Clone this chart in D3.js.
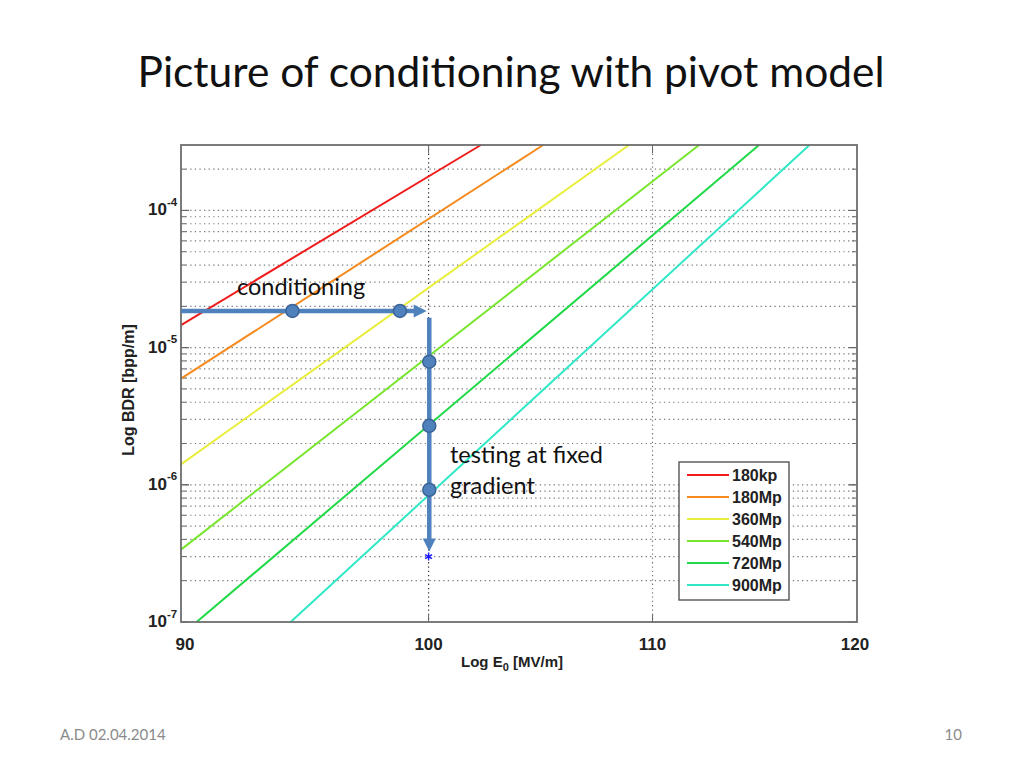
<!DOCTYPE html>
<html><head><meta charset="utf-8">
<script src="https://cdn.jsdelivr.net/npm/d3@7"></script>
<style>
body{margin:0;background:#fff;}
svg{display:block;}
</style></head>
<body>
<svg id="chart" width="1024" height="768"></svg>
<script>
// ---- data ----
const seriesNames = ["180kp","180Mp","360Mp","540Mp","720Mp","900Mp"];
const seriesColors = ["#f01c1c","#f58a1e","#e8ee3a","#78e62e","#1fd946","#30e8c6"];
// each line: visible start / end points [E0, BDR] (straight in log-log)
const lineStartE = [90, 90, 90, 90, 90.6, 94.3];
const lineStartB = [1.46e-5, 5.94e-6, 1.41e-6, 3.37e-7, 1e-7, 1e-7];
const lineEndE   = [102.25, 105.0, 108.9, 112.2, 115.1, 117.6];
const lineEndB   = [3e-4, 3e-4, 3e-4, 3e-4, 3e-4, 3e-4];
const xTicks = [90, 100, 110, 120];
const yTicks = [1e-7, 1e-6, 1e-5, 1e-4];
const yTickExp = ["-7","-6","-5","-4"];
const xGrid = [100, 110];
// annotation: conditioning (horizontal) and testing (vertical)
const condArrowE = [90, 99.92];
const condArrowB = 1.85e-5;
const condDotsE = [94.37, 98.79];
const testArrowB = [1.65e-5, 3.27e-7];
const testE = 100.03;
const testDotsB = [7.9e-6, 2.69e-6, 9.2e-7];
const starPoint = [100, 3e-7];

// ---- layout ----
const L = 181, R = 857, T = 145, B = 622;
const svg = d3.select("#chart");
const x = d3.scaleLog().domain([90, 120]).range([L, R]);
const y = d3.scaleLog().domain([1e-7, 3e-4]).range([B, T]);
const axisFont = "Arial, 'Liberation Sans', sans-serif";
const af = "Lato, 'Open Sans', sans-serif";

// title
svg.append("text").attr("x", 511).attr("y", 87).attr("text-anchor","middle")
  .attr("font-family",af).attr("font-size", 42.5)
  .attr("fill","#111").text("Picture of conditioning with pivot model");

// plot background
svg.append("rect").attr("x",L).attr("y",T).attr("width",R-L).attr("height",B-T).attr("fill","#fff");

// horizontal minor grid
const gridVals = [];
for (let e = -7; e <= -4; e++) for (let m = 1; m <= 9; m++) {
  const v = m * Math.pow(10, e);
  if (v > 1e-7 && v < 3e-4) gridVals.push(v);
}
svg.append("g").selectAll("line").data(gridVals).join("line")
  .attr("x1", L).attr("x2", R).attr("y1", d => y(d)).attr("y2", d => y(d))
  .attr("stroke","#7a7a7a").attr("stroke-width",1.2).attr("stroke-dasharray","1.3,3.3");

// vertical grid
svg.append("g").selectAll("line").data(xGrid).join("line")
  .attr("x1", d => x(d)).attr("x2", d => x(d)).attr("y1", T).attr("y2", B)
  .attr("stroke", d => d === 100 ? "#333" : "#7a7a7a").attr("stroke-width",1.2)
  .attr("stroke-dasharray","1.3,3");

// y ticks (inside, left and right)
const tickG = svg.append("g").attr("stroke","#666").attr("stroke-width",1);
gridVals.concat(yTicks).forEach(v => {
  const major = yTicks.includes(v);
  const len = major ? 8 : 5;
  tickG.append("line").attr("x1",L).attr("x2",L+len).attr("y1",y(v)).attr("y2",y(v));
  tickG.append("line").attr("x1",R).attr("x2",R-len).attr("y1",y(v)).attr("y2",y(v));
});
xGrid.forEach(v => {
  tickG.append("line").attr("x1",x(v)).attr("x2",x(v)).attr("y1",B).attr("y2",B-8);
  tickG.append("line").attr("x1",x(v)).attr("x2",x(v)).attr("y1",T).attr("y2",T+8);
});

// series lines
const lineGen = d3.line().x(d => x(d[0])).y(d => y(d[1]));
svg.append("g").selectAll("path").data(seriesNames).join("path")
  .attr("d", (d,i) => lineGen([[lineStartE[i], lineStartB[i]], [lineEndE[i], lineEndB[i]]]))
  .attr("fill","none").attr("stroke", (d,i) => seriesColors[i]).attr("stroke-width",2);

// frame
svg.append("rect").attr("x",L).attr("y",T).attr("width",R-L).attr("height",B-T)
  .attr("fill","none").attr("stroke","#6e6e6e").attr("stroke-width",1.8);

// y tick labels
const yl = svg.append("g").attr("font-family",axisFont)
  .attr("font-weight","bold").attr("fill","#222");
yTicks.forEach((v,i) => {
  yl.append("text").attr("x", 167).attr("y", y(v) + 5).attr("text-anchor","end")
    .attr("font-size",17).text("10");
  yl.append("text").attr("x", 167).attr("y", y(v) - 4.5).attr("font-size",11.5).text(yTickExp[i]);
});
// x tick labels
svg.append("g").selectAll("text").data(xTicks).join("text")
  .attr("x", d => x(d) + (d===90 ? 4 : (d===120 ? -2 : 0))).attr("y", 650).attr("text-anchor","middle")
  .attr("font-family",axisFont).attr("font-weight","bold")
  .attr("font-size",17).attr("fill","#222").text(d => d);

// axis titles
const xt = svg.append("text").attr("x", 512).attr("y", 667).attr("text-anchor","middle")
  .attr("font-family",axisFont).attr("font-weight","bold")
  .attr("font-size",15).attr("fill","#222");
xt.append("tspan").text("Log E");
xt.append("tspan").attr("font-size",11).attr("dy",4).text("0");
xt.append("tspan").attr("dy",-4).text(" [MV/m]");

svg.append("text").attr("transform","translate(134,390) rotate(-90)").attr("text-anchor","middle")
  .attr("font-family",axisFont).attr("font-weight","bold")
  .attr("font-size",16).attr("fill","#222").text("Log BDR [bpp/m]");

// legend
const lg = svg.append("g");
lg.append("rect").attr("x",679).attr("y",462).attr("width",110).attr("height",138)
  .attr("fill","#fff").attr("stroke","#555").attr("stroke-width",1.4);
seriesNames.forEach((n,i) => {
  const yy = 475 + i * 22;
  lg.append("line").attr("x1",687).attr("x2",729).attr("y1",yy).attr("y2",yy)
    .attr("stroke",seriesColors[i]).attr("stroke-width",2);
  lg.append("text").attr("x",732).attr("y",yy+6)
    .attr("font-family",axisFont).attr("font-weight","bold")
    .attr("font-size",16).attr("fill","#222").text(n);
});

// star data point
svg.append("path").attr("d", d3.symbol(d3.symbolAsterisk || d3.symbolCross, 45)())
  .attr("transform", `translate(${x(starPoint[0])},${y(starPoint[1])})`)
  .attr("fill","none").attr("stroke","#1a1aff").attr("stroke-width",1.4);

// annotation arrows
const blue = "#4f81bd", blueDark = "#3a6496";
const ann = svg.append("g");
// horizontal
const hx1 = x(condArrowE[0]), hx2 = x(condArrowE[1]), hy = y(condArrowB);
ann.append("line").attr("x1",hx1).attr("x2",hx2-10).attr("y1",hy).attr("y2",hy)
  .attr("stroke",blue).attr("stroke-width",4.5);
ann.append("path").attr("d",`M${hx2},${hy} L${hx2-13},${hy-6.5} L${hx2-13},${hy+6.5} Z`).attr("fill",blue);
// vertical
const vx = x(testE), vy1 = y(testArrowB[0]), vy2 = y(testArrowB[1]);
ann.append("line").attr("x1",vx).attr("x2",vx).attr("y1",vy1).attr("y2",vy2-10)
  .attr("stroke",blue).attr("stroke-width",4.5);
ann.append("path").attr("d",`M${vx},${vy2} L${vx-6.5},${vy2-13} L${vx+6.5},${vy2-13} Z`).attr("fill",blue);
// dots
ann.selectAll("circle.c").data(condDotsE).join("circle").attr("class","c")
  .attr("cx", d => x(d)).attr("cy", hy).attr("r",6.5)
  .attr("fill",blue).attr("stroke",blueDark).attr("stroke-width",1.5);
ann.selectAll("circle.t").data(testDotsB).join("circle").attr("class","t")
  .attr("cx", vx).attr("cy", d => y(d)).attr("r",6.5)
  .attr("fill",blue).attr("stroke",blueDark).attr("stroke-width",1.5);

// annotation texts
svg.append("text").attr("x",237).attr("y",295).attr("font-family",af).attr("font-size",23.5)
  .attr("fill","#111").text("conditioning");
svg.append("text").attr("x",450).attr("y",463).attr("font-family",af).attr("font-size",23.5)
  .attr("fill","#111").text("testing at fixed");
svg.append("text").attr("x",450).attr("y",494).attr("font-family",af).attr("font-size",23.5)
  .attr("fill","#111").text("gradient");

// footer
svg.append("text").attr("x",60).attr("y",740).attr("font-family",af).attr("font-size",15)
  .attr("fill","#8a8a8a").text("A.D 02.04.2014");
svg.append("text").attr("x",962).attr("y",740).attr("text-anchor","end").attr("font-family",af)
  .attr("font-size",15).attr("fill","#8a8a8a").text("10");
</script>
</body></html>
